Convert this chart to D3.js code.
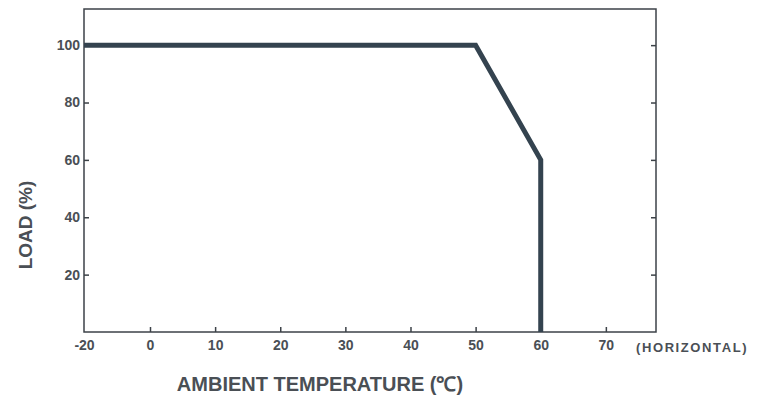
<!DOCTYPE html>
<html>
<head>
<meta charset="utf-8">
<script src="https://cdn.jsdelivr.net/npm/d3@7"></script>
<style>
  body { margin: 0; background: #fff; }
  text { font-family: "Liberation Sans", Arial, sans-serif; font-weight: bold; fill: #4a4f55; }
</style>
</head>
<body>
<svg id="chart" width="768" height="398"></svg>
<script>
// derating curve: temperature (C) vs load (%)
var temps = [-20, 50, 60, 60];
var loads = [100, 100, 60, 0];
var xTicks = [-20, 0, 10, 20, 30, 40, 50, 60, 70];
var yTicks = [20, 40, 60, 80, 100];

var svg = d3.select('#chart');
var pLeft = 84, pRight = 656, pTop = 9, pBottom = 332;

// x axis has a break: -20 sits on the left edge, 0..70 is linear
var x = d3.scaleLinear().domain([-20, 0, 77.7]).range([pLeft, 150, pRight]);
var y = d3.scaleLinear().domain([0, 112.6]).range([pBottom, pTop]);

var g = svg.append('g');

// frame
g.append('rect')
  .attr('x', pLeft).attr('y', pTop)
  .attr('width', pRight - pLeft).attr('height', pBottom - pTop)
  .attr('fill', 'none').attr('stroke', '#3c4248').attr('stroke-width', 1.5);

// bottom axis, ticks pointing inward
var xAxis = g.append('g').attr('transform', 'translate(0,' + pBottom + ')')
  .call(d3.axisBottom(x).tickValues(xTicks).tickFormat(d => String(d))
    .tickSizeInner(-5).tickSizeOuter(0).tickPadding(8));
xAxis.select('.domain').remove();
xAxis.selectAll('line').attr('stroke', '#3c4248').attr('stroke-width', 1.5)
  .filter(d => d === -20).remove();
xAxis.selectAll('text').attr('font-size', 14).attr('fill', '#4a4f55');

// left axis
var yAxis = g.append('g').attr('transform', 'translate(' + pLeft + ',0)')
  .call(d3.axisLeft(y).tickValues(yTicks).tickSizeInner(-5).tickSizeOuter(0).tickPadding(4));
yAxis.select('.domain').remove();
yAxis.selectAll('line').attr('stroke', '#3c4248').attr('stroke-width', 1.5);
yAxis.selectAll('text').attr('font-size', 14).attr('fill', '#4a4f55');

// right axis ticks only
var yAxisR = g.append('g').attr('transform', 'translate(' + pRight + ',0)')
  .call(d3.axisRight(y).tickValues(yTicks).tickSizeInner(-5).tickSizeOuter(0).tickFormat(''));
yAxisR.select('.domain').remove();
yAxisR.selectAll('line').attr('stroke', '#3c4248').attr('stroke-width', 1.5);

// curve
var line = d3.line().x((d, i) => x(temps[i])).y(d => y(d));
g.append('path')
  .datum(loads)
  .attr('d', line)
  .attr('fill', 'none')
  .attr('stroke', '#34434f')
  .attr('stroke-width', 5)
  .attr('stroke-linejoin', 'miter');

// titles
svg.append('text')
  .attr('x', 320).attr('y', 391)
  .attr('text-anchor', 'middle')
  .attr('font-size', 20)
  .text('AMBIENT TEMPERATURE (\u2103)');

svg.append('text')
  .attr('transform', 'translate(32,225) rotate(-90)')
  .attr('text-anchor', 'middle')
  .attr('font-size', 19)
  .text('LOAD (%)');

svg.append('text')
  .attr('x', 636).attr('y', 352)
  .attr('font-size', 13)
  .attr('letter-spacing', 1.6)
  .text('(HORIZONTAL)');
</script>
</body>
</html>
